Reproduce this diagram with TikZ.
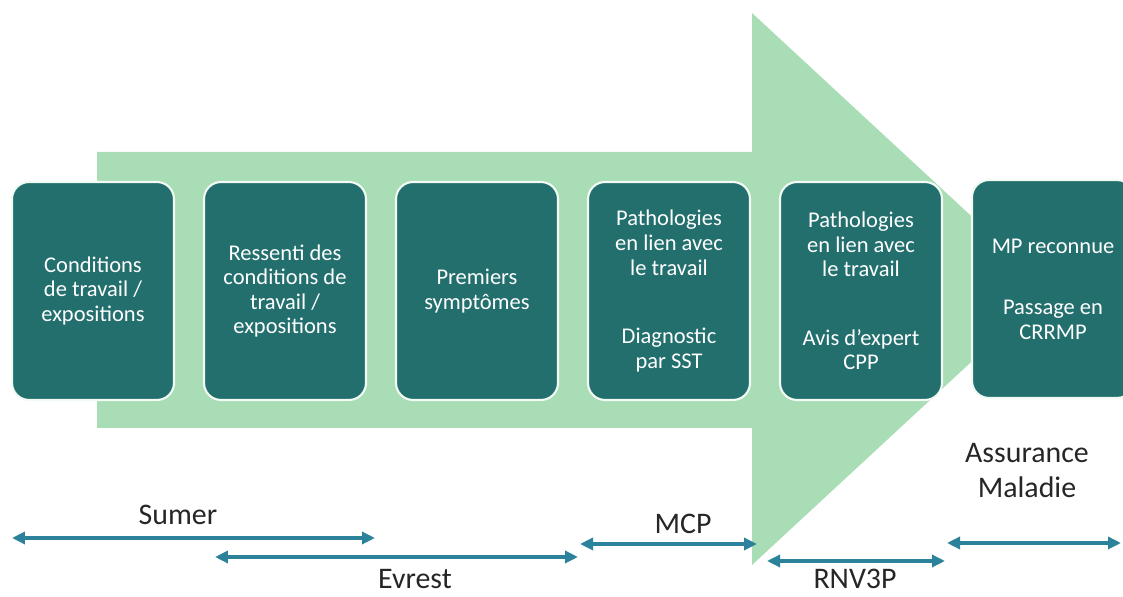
\documentclass[tikz,border=0pt]{standalone}
\usepackage{fontspec}
\setmainfont{Carlito}
\usetikzlibrary{arrows.meta}

\definecolor{vertclair}{RGB}{168,221,181}
\definecolor{sarcelle}{RGB}{35,111,110}
\definecolor{bleuspan}{RGB}{44,130,155}

\tikzset{
  etape/.style={draw=white!85!vertclair, line width=1.2pt, fill=sarcelle,
    rounded corners=0.34cm, minimum width=3.24cm, minimum height=4.36cm,
    inner sep=0pt, text=white, align=center,
    font=\fontsize{12.8}{14}\selectfont},
  duree/.style={bleuspan, line width=2.3pt,
    {Triangle[length=0.26cm,width=0.24cm]}-{Triangle[length=0.26cm,width=0.24cm]}},
  source/.style={anchor=base, inner sep=1pt, text=black!85, align=center,
    font=\fontsize{17}{20}\selectfont}
}

\begin{document}
\begin{tikzpicture}[x=0.02cm,y=-0.02cm]
\useasboundingbox (0,0) rectangle (1123,597);
%\draw [lightgray] (0,0) grid[step=50] (1123,597);

\fill [vertclair] (97,152) -- (752,152) -- (752,13) -- (1050,289)
  -- (752,565) -- (752,428) -- (97,428) -- cycle; % grande fleche

\node [etape] (cond) at (93,291) {Conditions\\de travail /\\expositions};
\node [etape] (ressenti) at (285,291) {Ressenti des\\conditions de\\travail /\\expositions};
\node [etape] (sympt) at (477,291) {Premiers\\symptômes};
\node [etape] (diag) at (669,291) {Pathologies\\en lien avec\\le travail\\[25pt]Diagnostic\\par SST};
\node [etape] (avis) at (861,291) {Pathologies\\en lien avec\\le travail\\[25pt]Avis d'expert\\CPP};
\node [etape] (mp) at (1053,289) {MP reconnue\\[21pt]Passage en\\CRRMP};

\coordinate (sumerG) at (12,538);  \coordinate (sumerD) at (375,538);
\coordinate (evrestG) at (215,557); \coordinate (evrestD) at (578,557);
\coordinate (mcpG) at (580,544);   \coordinate (mcpD) at (757,544);
\coordinate (rnvG) at (767,561);   \coordinate (rnvD) at (945,561);
\coordinate (amG) at (947,543);    \coordinate (amD) at (1121,543);

\draw [duree] (sumerG) -- (sumerD);   % Sumer
\draw [duree] (evrestG) -- (evrestD); % Evrest
\draw [duree] (mcpG) -- (mcpD);       % MCP
\draw [duree] (rnvG) -- (rnvD);       % RNV3P
\draw [duree] (amG) -- (amD);         % Assurance Maladie

\node [source] (sumer) at (178,525) {Sumer};
\node [source] (evrest) at (415,589) {Evrest};
\node [source] (mcp) at (683,534) {MCP};
\node [source] (rnv) at (855,589) {RNV3P};
\node [source] (am) at (1027,498) {Assurance\\Maladie};

\end{tikzpicture}
\end{document}
